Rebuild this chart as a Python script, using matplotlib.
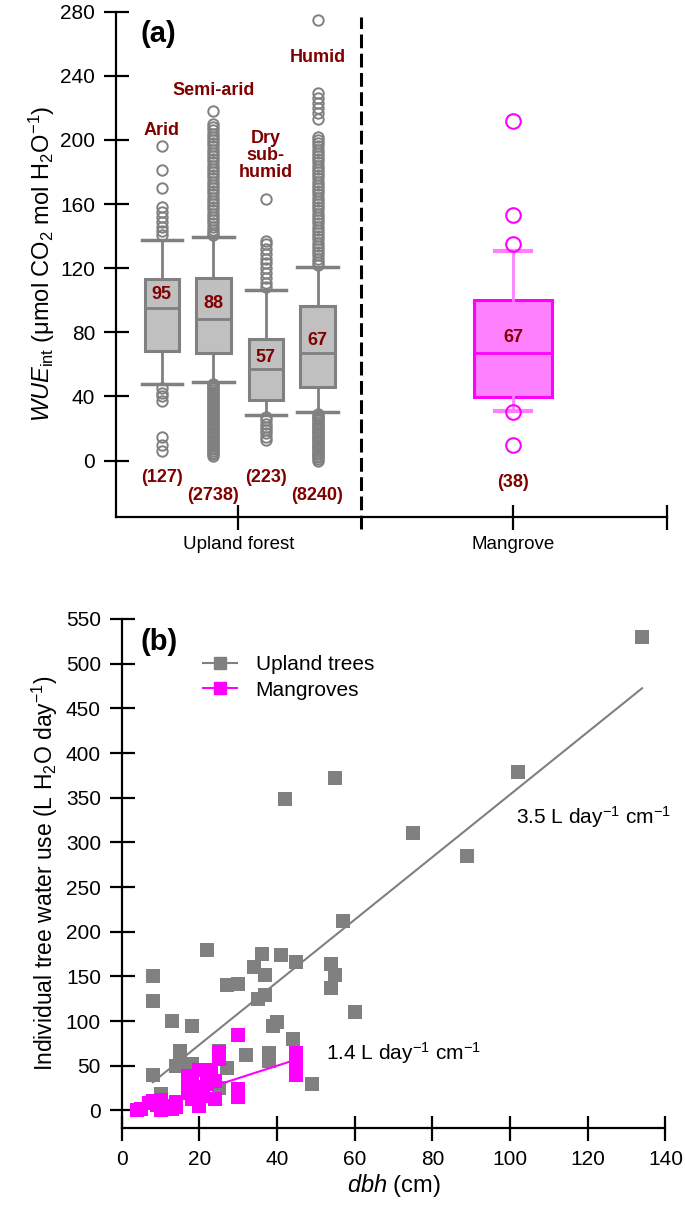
import matplotlib
matplotlib.use('Agg')
import matplotlib.pyplot as plt
from matplotlib.lines import Line2D

plt.rcParams['font.family'] = ['Liberation Sans', 'DejaVu Sans']
plt.rcParams['mathtext.fontset'] = 'custom'
plt.rcParams['mathtext.rm'] = 'Liberation Sans'
plt.rcParams['mathtext.it'] = 'Liberation Sans:italic'
plt.rcParams['mathtext.bf'] = 'Liberation Sans:bold'

######## panel (a) data: WUEint box statistics ########
zones = ['Arid', 'Semi-arid', 'Dry\nsub-\nhumid', 'Humid']
zone_n = ['(127)', '(2738)', '(223)', '(8240)']
zone_med = [95, 88, 57, 67]
zone_q1 = [68.6, 67.1, 38.0, 45.7]
zone_q3 = [113.1, 113.8, 75.9, 96.6]
zone_whislo = [48, 49, 28.3, 30.1]
zone_whishi = [137.7, 139.3, 106.5, 120.6]
zone_fliers = [
    [196, 181, 170, 158, 155, 152, 149, 146, 143, 141, 45, 42, 40, 37, 15, 10, 6],
    [218, 210, 208, 206, 204, 202, 200, 198, 196, 194, 192, 190, 188, 186, 184, 182,
     180, 178, 176, 174, 172, 170, 168, 166, 164, 162, 160, 158, 156, 154, 152, 150,
     148, 146, 144, 142, 141,
     48, 47, 46, 45, 44, 43, 42, 41, 40, 39, 38, 37, 36, 35, 34, 33, 32, 31, 30, 29,
     28, 27, 26, 25, 24, 23, 22, 21, 20, 19, 18, 17, 16, 15, 14, 13, 12, 11, 10, 9,
     8, 7, 6, 5, 4, 3],
    [163, 137, 135, 132, 129, 126, 123, 120, 117, 114, 111, 108, 27, 25, 23, 21, 19,
     17, 15, 13],
    [275, 229, 226, 223, 220, 217, 213, 202, 200, 198, 196, 194, 192, 190, 188, 186,
     184, 182, 180, 178, 176, 174, 172, 170, 168, 166, 164, 162, 160, 158, 156, 154,
     152, 150, 148, 146, 144, 142, 140, 138, 136, 134, 132, 130, 128, 126, 124, 122,
     29, 28, 27, 26, 25, 24, 23, 22, 21, 20, 19, 18, 17, 16, 15, 14, 13, 12, 11, 10,
     9, 8, 7, 6, 5, 4, 3, 2, 1, 0],
]

mang_n = '(38)'
mang_med = 67
mang_q1 = 39.5
mang_q3 = 100
mang_whislo = 31.2
mang_whishi = 130.5
mang_fliers = [212, 153, 135, 30, 10]

######## panel (b) data: tree water use vs dbh ########
upland_dbh = [8, 8, 8, 10, 13, 14, 15, 15, 15, 17, 18, 18, 22, 25, 25, 27, 27, 30, 32,
              34, 35, 36, 37, 37, 38, 38, 39, 40, 41, 42, 44, 45, 49, 54, 55, 54, 55,
              57, 60, 75, 89, 102, 134]
upland_use = [150, 123, 40, 18, 100, 50, 67, 60, 52, 27, 94, 52, 180, 67, 25, 48, 140,
              141, 62, 161, 125, 175, 151, 129, 64, 55, 94, 99, 174, 349, 80, 166, 29,
              164, 151, 137, 372, 212, 110, 310, 285, 379, 530]
mang_dbh = [4, 5, 7, 8, 9, 10, 10, 11, 12, 13, 14, 14, 17, 17, 17, 18, 18, 19, 20, 20,
            20, 21, 22, 22, 23, 24, 24, 25, 25, 30, 30, 30, 45, 45, 45, 45]
mang_use = [1, 2, 8, 10, 6, 12, 0, 4, 5, 2, 9, 4, 39, 28, 20, 13, 35, 25, 45, 26, 5, 16,
            41, 30, 45, 33, 13, 65, 58, 84, 24, 15, 64, 55, 45, 40]

# fitted lines as printed in the figure: slope (L day-1 cm-1), intercept, dbh range
upland_fit = (3.5, 3.5, 8, 134)
mang_fit = (1.4, -6.0, 4, 45)

gray = '#808080'
magenta = '#FF00FF'
pink = '#FF80FF'
darkred = '#800000'

fig = plt.figure(figsize=(6.85, 12.08), dpi=100)
ax1 = fig.add_axes([0.1693, 0.5723, 0.8040, 0.4180])
ax2 = fig.add_axes([0.1777, 0.0660, 0.7937, 0.4216])

######## panel (a) ########
pos_zone = [8.3, 17.7, 27.2, 36.6]
pos_mang = 72.1

stats = []
for i in range(len(zones)):
    stats.append({'med': zone_med[i], 'q1': zone_q1[i], 'q3': zone_q3[i],
                  'whislo': zone_whislo[i], 'whishi': zone_whishi[i],
                  'fliers': zone_fliers[i]})
ax1.bxp(stats, positions=pos_zone, widths=6.2, capwidths=7.3, patch_artist=True,
        boxprops=dict(facecolor='#C0C0C0', edgecolor=gray, linewidth=2.2),
        medianprops=dict(color=gray, linewidth=2),
        whiskerprops=dict(color=gray, linewidth=2),
        capprops=dict(color=gray, linewidth=2.5),
        flierprops=dict(marker='o', markerfacecolor='none', markeredgecolor=gray,
                        markersize=7.5, markeredgewidth=1.4))

mstats = [{'med': mang_med, 'q1': mang_q1, 'q3': mang_q3, 'whislo': mang_whislo,
           'whishi': mang_whishi, 'fliers': mang_fliers}]
ax1.bxp(mstats, positions=[pos_mang], widths=14.3, capwidths=6.5, patch_artist=True,
        boxprops=dict(facecolor=pink, edgecolor=magenta, linewidth=2.2),
        medianprops=dict(color=magenta, linewidth=2),
        whiskerprops=dict(color=pink, linewidth=2),
        capprops=dict(color=pink, linewidth=3),
        flierprops=dict(marker='o', markerfacecolor='none', markeredgecolor=magenta,
                        markersize=10.5, markeredgewidth=1.5))

# climate zone names, medians and sample sizes
name_y = [206, 231, 190.5, 251.5]
med_y = [103.4, 97.8, 64, 75]
n_y = [-10.8, -21.8, -10.8, -21.8]
for i in range(len(zones)):
    ax1.text(pos_zone[i], name_y[i], zones[i], color=darkred, fontsize=13,
             fontweight='bold', ha='center', va='center', linespacing=1.0)
    ax1.text(pos_zone[i], med_y[i], str(zone_med[i]), color=darkred, fontsize=13,
             fontweight='bold', ha='center', va='center')
    ax1.text(pos_zone[i], n_y[i], zone_n[i], color=darkred, fontsize=13,
             fontweight='bold', ha='center', va='center')
ax1.text(pos_mang, 76.5, str(mang_med), color=darkred, fontsize=13,
         fontweight='bold', ha='center', va='center')
ax1.text(pos_mang, -13.9, mang_n, color=darkred, fontsize=13,
         fontweight='bold', ha='center', va='center')

ax1.plot([44.5, 44.5], [-43, 277], color='black', linestyle=(0, (4.5, 1.8)),
         linewidth=2.2, clip_on=False)

ax1.set_xlim(0, 100)
ax1.set_ylim(-35, 280)
ax1.set_yticks(range(0, 281, 40))
ax1.set_xticks([22.2, 72.1, 100])
ax1.set_xticklabels(['Upland forest', 'Mangrove', ''], fontsize=13.5)
ax1.tick_params(axis='y', labelsize=15, direction='inout', length=18, width=1.6, pad=6)
ax1.tick_params(axis='x', direction='inout', length=18, width=1.6, pad=5)
for s in ['top', 'right']:
    ax1.spines[s].set_visible(False)
for s in ['left', 'bottom']:
    ax1.spines[s].set_linewidth(1.6)
ax1.set_ylabel(r'$\mathit{WUE}_{\mathrm{int}}$ (μmol CO$_2$ mol H$_2$O$^{-1}$)',
               fontsize=17, labelpad=2)
ax1.text(0.045, 0.955, '(a)', transform=ax1.transAxes, fontsize=21,
         fontweight='bold', va='center')

######## panel (b) ########
ax2.scatter(upland_dbh, upland_use, marker='s', s=90, color=gray, linewidths=0, zorder=2)
ax2.scatter(mang_dbh, mang_use, marker='s', s=90, color=magenta, linewidths=0, zorder=3)

for fit, col, z in [(upland_fit, gray, 2.5), (mang_fit, magenta, 3.5)]:
    slope, icpt, x0, x1 = fit
    ax2.plot([x0, x1], [slope * x0 + icpt, slope * x1 + icpt], color=col,
             linewidth=1.5, zorder=z)

ax2.text(101.5, 328, '3.5 L day$^{-1}$ cm$^{-1}$', fontsize=15, va='center')
ax2.text(52.5, 64, '1.4 L day$^{-1}$ cm$^{-1}$', fontsize=15, va='center')

handles = [Line2D([], [], color=gray, marker='s', markersize=9, linewidth=1.5),
           Line2D([], [], color=magenta, marker='s', markersize=9, linewidth=1.5)]
ax2.legend(handles, ['Upland trees', 'Mangroves'], loc='upper left',
           bbox_to_anchor=(0.135, 0.945), frameon=False, fontsize=15,
           handlelength=1.6, handletextpad=0.9, labelspacing=0.3, borderaxespad=0)

ax2.set_xlim(0, 140)
ax2.set_ylim(-20, 550)
ax2.set_xticks(range(0, 141, 20))
ax2.set_yticks(range(0, 551, 50))
ax2.tick_params(labelsize=15, direction='inout', length=18, width=1.6)
ax2.tick_params(axis='x', pad=7)
ax2.tick_params(axis='y', pad=6)
for s in ['top', 'right']:
    ax2.spines[s].set_visible(False)
for s in ['left', 'bottom']:
    ax2.spines[s].set_linewidth(1.6)
ax2.set_xlabel(r'$\mathit{dbh}$ (cm)', fontsize=17, labelpad=2)
ax2.set_ylabel('Individual tree water use (L H$_2$O day$^{-1}$)', fontsize=16.5,
               labelpad=4)
ax2.text(0.035, 0.955, '(b)', transform=ax2.transAxes, fontsize=21,
         fontweight='bold', va='center')

fig.savefig('out.png', dpi=100)
